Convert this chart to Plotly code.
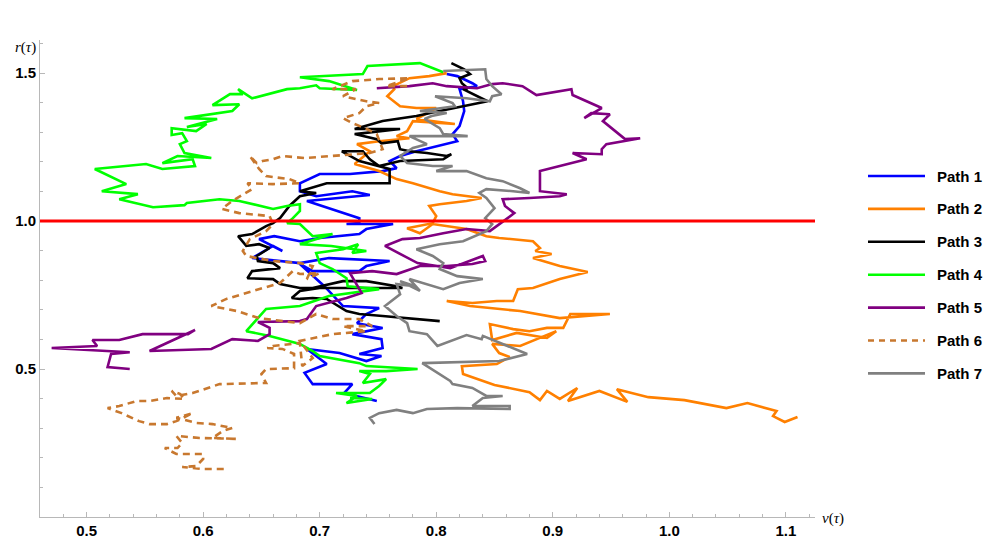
import plotly.graph_objects as go

# ---- data (nu(tau), r(tau)) ----
path1 = [(0.809,1.497),(0.818,1.490),(0.831,1.466),(0.835,1.456),(0.820,1.446),(0.823,1.405),(0.824,1.372),
 (0.820,1.321),(0.814,1.294),(0.818,1.270),(0.783,1.236),(0.769,1.220),(0.760,1.203),(0.766,1.179),(0.754,1.169),
 (0.726,1.159),(0.700,1.159),(0.683,1.128),(0.683,1.101),(0.697,1.084),(0.728,1.101),(0.743,1.088),(0.689,1.068),
 (0.720,1.027),(0.734,1.010),(0.734,0.993),(0.723,0.990),(0.763,0.990),(0.740,0.973),(0.734,0.956),(0.700,0.943),
 (0.683,0.932),(0.661,0.949),(0.648,0.939),(0.668,0.899),(0.660,0.916),(0.642,0.875),(0.683,0.858),(0.708,0.875),
 (0.760,0.865),(0.740,0.848),(0.734,0.831),(0.694,0.831),(0.683,0.855),(0.704,0.780),(0.720,0.713),(0.751,0.706),
 (0.740,0.686),(0.732,0.655),(0.754,0.639),(0.728,0.618),(0.753,0.601),(0.754,0.571),(0.734,0.551),(0.753,0.544),
 (0.740,0.527),(0.717,0.554),(0.689,0.568),(0.706,0.517),(0.687,0.487),(0.694,0.449),(0.728,0.449),(0.721,0.419),
 (0.749,0.392)]

path2 = [(0.809,1.500),(0.794,1.490),(0.777,1.483),(0.763,1.456),(0.764,1.446),(0.758,1.422),(0.769,1.388),
 (0.783,1.382),(0.800,1.382),(0.783,1.345),(0.816,1.328),(0.780,1.338),(0.775,1.304),(0.766,1.287),(0.777,1.280),
 (0.751,1.270),(0.732,1.260),(0.743,1.236),(0.730,1.193),(0.751,1.169),(0.766,1.142),(0.780,1.128),(0.803,1.101),
 (0.814,1.091),(0.839,1.078),(0.826,1.068),(0.803,1.057),(0.794,1.051),(0.800,1.017),(0.797,0.993),(0.775,0.976),
 (0.786,0.959),(0.797,0.990),(0.809,0.983),(0.826,0.973),(0.843,0.949),(0.854,0.943),(0.883,0.932),(0.889,0.909),
 (0.885,0.899),(0.899,0.889),(0.883,0.875),(0.906,0.848),(0.930,0.828),(0.906,0.804),(0.883,0.774),(0.870,0.770),
 (0.866,0.730),(0.852,0.730),(0.831,0.723),(0.809,0.730),(0.829,0.713),(0.848,0.706),(0.872,0.696),(0.906,0.672),
 (0.949,0.686),(0.915,0.686),(0.909,0.639),(0.895,0.639),(0.880,0.628),(0.866,0.635),(0.846,0.652),(0.848,0.598),
 (0.869,0.622),(0.895,0.605),(0.903,0.628),(0.872,0.578),(0.848,0.585),(0.854,0.554),(0.863,0.541),(0.852,0.517),
 (0.822,0.510),(0.823,0.483),(0.850,0.446),(0.880,0.422),(0.889,0.395),(0.895,0.426),(0.906,0.399),(0.921,0.436),
 (0.913,0.392),(0.940,0.426),(0.964,0.389),(0.955,0.432),(0.982,0.405),(1.013,0.395),(1.049,0.368),(1.067,0.385),
 (1.092,0.358),(1.089,0.341),(1.099,0.321),(1.110,0.338)]

path3 = [(0.813,1.534),(0.824,1.513),(0.829,1.497),(0.820,1.483),(0.822,1.466),(0.827,1.449),(0.823,1.446),
 (0.839,1.415),(0.844,1.405),(0.803,1.372),(0.783,1.355),(0.754,1.338),(0.730,1.311),(0.769,1.311),(0.740,1.297),
 (0.730,1.294),(0.749,1.277),(0.753,1.263),(0.767,1.270),(0.769,1.243),(0.777,1.236),(0.792,1.230),(0.809,1.220),
 (0.813,1.226),(0.806,1.209),(0.769,1.203),(0.751,1.186),(0.743,1.209),(0.737,1.236),(0.719,1.236),(0.734,1.203),
 (0.760,1.176),(0.760,1.128),(0.706,1.128),(0.683,1.101),(0.697,1.095),(0.683,1.084),(0.674,1.051),(0.666,1.010),
 (0.660,0.993),(0.654,0.983),(0.642,0.956),(0.630,0.949),(0.634,0.932),(0.637,0.916),(0.648,0.922),(0.657,0.909),
 (0.646,0.882),(0.647,0.865),(0.660,0.858),(0.666,0.841),(0.642,0.831),(0.638,0.807),(0.660,0.804),(0.666,0.787),
 (0.683,0.774),(0.694,0.774),(0.720,0.797),(0.740,0.797),(0.766,0.780),(0.771,0.774),(0.700,0.774),(0.683,0.764),
 (0.676,0.740),(0.683,0.737),(0.694,0.740),(0.706,0.737),(0.723,0.696),(0.734,0.686),(0.754,0.679),(0.777,0.672),
 (0.803,0.662)]

path4 = [(0.726,0.402),(0.745,0.399),(0.723,0.385),(0.732,0.409),(0.714,0.419),(0.743,0.419),(0.751,0.443),
 (0.757,0.466),(0.737,0.453),(0.743,0.483),(0.734,0.493),(0.757,0.493),(0.784,0.500),(0.769,0.503),(0.740,0.510),
 (0.734,0.520),(0.700,0.544),(0.694,0.561),(0.683,0.585),(0.657,0.612),(0.637,0.628),(0.654,0.703),(0.683,0.713),
 (0.708,0.747),(0.751,0.770),(0.724,0.780),(0.723,0.807),(0.711,0.838),(0.700,0.858),(0.697,0.892),(0.720,0.905),
 (0.733,0.922),(0.728,0.892),(0.740,0.899),(0.710,0.916),(0.683,0.922),(0.697,0.939),(0.711,0.956),(0.694,0.949),
 (0.683,0.990),(0.672,0.993),(0.677,1.010),(0.683,1.034),(0.683,1.057),(0.672,1.051),(0.660,1.041),(0.631,1.068),
 (0.614,1.074),(0.586,1.061),(0.584,1.054),(0.557,1.047),(0.528,1.074),(0.544,1.091),(0.513,1.101),(0.534,1.125),
 (0.507,1.176),(0.551,1.193),(0.565,1.176),(0.593,1.186),(0.591,1.209),(0.565,1.196),(0.578,1.220),(0.607,1.213),
 (0.584,1.230),(0.580,1.260),(0.586,1.270),(0.582,1.297),(0.573,1.291),(0.573,1.314),(0.594,1.304),(0.603,1.328),
 (0.586,1.318),(0.612,1.345),(0.584,1.348),(0.625,1.372),(0.631,1.395),(0.608,1.392),(0.623,1.429),(0.634,1.429),
 (0.630,1.446),(0.642,1.415),(0.672,1.446),(0.683,1.449),(0.697,1.459),(0.700,1.449),(0.732,1.443),(0.708,1.473),
 (0.683,1.486),(0.737,1.497),(0.741,1.524),(0.786,1.534),(0.806,1.503)]

path5 = [(0.537,0.500),(0.518,0.507),(0.521,0.551),(0.537,0.557),(0.470,0.571),(0.509,0.578),(0.505,0.598),
 (0.528,0.598),(0.548,0.618),(0.587,0.618),(0.593,0.632),(0.554,0.561),(0.607,0.568),(0.625,0.601),(0.647,0.595),
 (0.657,0.618),(0.657,0.639),(0.647,0.659),(0.683,0.662),(0.689,0.669),(0.697,0.713),(0.723,0.740),(0.736,0.757),
 (0.726,0.824),(0.745,0.831),(0.766,0.821),(0.786,0.848),(0.809,0.848),(0.831,0.855),(0.842,0.865),(0.840,0.882),
 (0.812,0.841),(0.784,0.858),(0.756,0.916),(0.771,0.939),(0.786,0.943),(0.806,0.959),(0.826,0.973),(0.846,0.966),
 (0.854,0.990),(0.861,1.010),(0.867,1.027),(0.859,1.051),(0.857,1.074),(0.880,1.078),(0.906,1.084),(0.912,1.091),
 (0.889,1.101),(0.889,1.169),(0.906,1.186),(0.929,1.209),(0.917,1.230),(0.942,1.226),(0.942,1.243),(0.946,1.260),
 (0.975,1.280),(0.962,1.277),(0.943,1.338),(0.949,1.361),(0.933,1.365),(0.927,1.348),(0.942,1.382),(0.917,1.426),
 (0.916,1.446),(0.906,1.439),(0.886,1.426),(0.874,1.456),(0.857,1.466),(0.848,1.463),(0.835,1.449),(0.809,1.456),
 (0.797,1.466),(0.777,1.456),(0.749,1.449)]

path6 = [(0.775,1.456),(0.757,1.456),(0.777,1.483),(0.751,1.480),(0.728,1.473),(0.711,1.446),(0.731,1.446),
 (0.720,1.422),(0.740,1.405),(0.751,1.399),(0.740,1.388),(0.734,1.365),(0.720,1.348),(0.728,1.331),(0.739,1.314),
 (0.749,1.294),(0.754,1.243),(0.743,1.230),(0.730,1.226),(0.711,1.220),(0.687,1.213),(0.668,1.220),(0.660,1.209),
 (0.651,1.203),(0.646,1.196),(0.640,1.220),(0.648,1.176),(0.654,1.152),(0.674,1.142),(0.683,1.128),(0.660,1.125),
 (0.638,1.128),(0.642,1.108),(0.625,1.068),(0.616,1.041),(0.631,1.027),(0.657,1.017),(0.660,0.990),(0.654,0.966),
 (0.640,0.939),(0.634,0.899),(0.637,0.882),(0.646,0.875),(0.660,0.865),(0.683,0.858),(0.694,0.848),(0.689,0.804),
 (0.700,0.824),(0.683,0.821),(0.677,0.831),(0.666,0.791),(0.648,0.770),(0.620,0.737),(0.607,0.713),(0.629,0.696),
 (0.648,0.672),(0.683,0.655),(0.697,0.686),(0.711,0.669),(0.734,0.669),(0.745,0.645),(0.720,0.645),(0.740,0.628),
 (0.711,0.618),(0.683,0.595),(0.694,0.537),(0.685,0.510),(0.683,0.588),(0.660,0.578),(0.655,0.571),(0.668,0.568),
 (0.678,0.551),(0.678,0.503),(0.654,0.500),(0.650,0.483),(0.654,0.453),(0.625,0.449),(0.614,0.449),(0.591,0.419),
 (0.577,0.409),(0.573,0.426),(0.580,0.416),(0.584,0.399),(0.569,0.402),(0.554,0.392),(0.543,0.392),(0.528,0.375),
 (0.518,0.368),(0.530,0.351),(0.545,0.324),(0.554,0.314),(0.569,0.314),(0.577,0.324),(0.591,0.351),(0.577,0.335),
 (0.594,0.318),(0.608,0.314),(0.625,0.301),(0.617,0.291),(0.608,0.267),(0.629,0.264),(0.597,0.267),(0.577,0.274),
 (0.582,0.250),(0.578,0.233),(0.567,0.233),(0.577,0.213),(0.600,0.213),(0.600,0.196),(0.594,0.172),(0.582,0.169),
 (0.600,0.162),(0.618,0.162)]

path7 = [(0.806,1.507),(0.842,1.513),(0.843,1.480),(0.848,1.456),(0.856,1.429),(0.848,1.422),(0.846,1.405),
 (0.826,1.415),(0.799,1.422),(0.814,1.399),(0.816,1.388),(0.806,1.382),(0.786,1.372),(0.809,1.365),(0.796,1.355),
 (0.790,1.345),(0.796,1.331),(0.803,1.314),(0.806,1.294),(0.827,1.287),(0.777,1.287),(0.792,1.260),(0.780,1.247),
 (0.769,1.220),(0.775,1.196),(0.797,1.186),(0.814,1.186),(0.800,1.169),(0.826,1.169),(0.843,1.145),(0.857,1.135),
 (0.872,1.111),(0.880,1.095),(0.866,1.101),(0.843,1.108),(0.837,1.095),(0.843,1.078),(0.850,1.044),(0.842,1.010),
 (0.848,0.990),(0.843,0.966),(0.823,0.932),(0.803,0.922),(0.783,0.905),(0.797,0.882),(0.806,0.858),(0.803,0.838),
 (0.818,0.814),(0.840,0.804),(0.820,0.791),(0.806,0.770),(0.777,0.804),(0.786,0.764),(0.769,0.797),(0.782,0.780),
 (0.766,0.787),(0.769,0.753),(0.756,0.713),(0.766,0.679),(0.775,0.655),(0.777,0.628),(0.792,0.618),(0.801,0.578),
 (0.826,0.615),(0.839,0.601),(0.840,0.612),(0.878,0.551),(0.854,0.527),(0.788,0.520),(0.812,0.460),(0.814,0.449),
 (0.831,0.436),(0.843,0.409),(0.857,0.409),(0.840,0.402),(0.831,0.375),(0.863,0.375),(0.863,0.365),(0.818,0.368),
 (0.792,0.365),(0.780,0.351),(0.766,0.362),(0.751,0.351),(0.743,0.335),(0.747,0.314)]

path_names = ["Path 1", "Path 2", "Path 3", "Path 4", "Path 5", "Path 6", "Path 7"]
path_colors = ["#0000ff", "#ff8000", "#000000", "#00ff00", "#800080", "#c8782f", "#808080"]
path_dashes = ["solid", "solid", "solid", "solid", "solid", "7px,5px", "solid"]
paths = [path1, path2, path3, path4, path5, path6, path7]
threshold = 1.0

x_ticks = [0.5, 0.6, 0.7, 0.8, 0.9, 1.0, 1.1]
y_ticks = [0.5, 1.0, 1.5]

fig = go.Figure()
for pts, name, col, dash in zip(paths, path_names, path_colors, path_dashes):
    xs = [p[0] for p in pts]
    ys = [p[1] for p in pts]
    fig.add_trace(go.Scatter(x=xs, y=ys, mode="lines", name=name, showlegend=False,
                             line=dict(color=col, width=2.6, dash=dash)))

# threshold line r = 1
fig.add_shape(type="line", xref="paper", yref="y", x0=0, x1=1, y0=threshold, y1=threshold,
              line=dict(color="#ff0000", width=3), layer="above")

tickfont = dict(family="Liberation Sans, Arial", size=15, color="black", weight="bold")
fig.update_xaxes(range=[0.46, 1.125], showgrid=False, zeroline=False, showline=True, automargin=False,
                 linecolor="#b8b8b8", linewidth=1, ticks="inside", ticklen=5, tickcolor="#b8b8b8",
                 tickvals=x_ticks, ticktext=[f"{v:.1f}" for v in x_ticks], tickfont=tickfont,
                 minor=dict(ticks="inside", ticklen=3, dtick=0.02, tick0=0.5, tickcolor="#b8b8b8"))
fig.update_yaxes(range=[0, 1.612], showgrid=False, zeroline=False, showline=True, automargin=False,
                 linecolor="#b8b8b8", linewidth=1, ticks="inside", ticklen=5, tickcolor="#b8b8b8",
                 tickvals=y_ticks, ticktext=[f"{v:.1f}" for v in y_ticks], tickfont=tickfont,
                 minor=dict(ticks="inside", ticklen=3, dtick=0.1, tick0=0, tickcolor="#b8b8b8"))

L, R, T, B = 40, 174, 40, 23
W, H = 989, 540
pw, ph = W - L - R, H - T - B

def px(xp):
    return (xp - L) / pw

def py(yp):
    return (H - B - yp) / ph

annotations = [
    dict(text="<i>r</i>(<i>τ</i>)", x=px(25), y=py(48), xref="paper", yref="paper", showarrow=False,
         xanchor="center", yanchor="middle",
         font=dict(family="Liberation Serif, Times New Roman", size=15, color="black")),
    dict(text="<i>ν</i>(<i>τ</i>)", x=px(833), y=py(518), xref="paper", yref="paper", showarrow=False,
         xanchor="center", yanchor="middle",
         font=dict(family="Liberation Serif, Times New Roman", size=15, color="black")),
]
leg_y0 = 176
leg_dy = 32.9
for i, (name, col, dash) in enumerate(zip(path_names, path_colors, path_dashes)):
    yy = leg_y0 + i * leg_dy
    fig.add_shape(type="line", xref="paper", yref="paper", x0=px(868), x1=px(925), y0=py(yy), y1=py(yy),
                  line=dict(color=col, width=2.6, dash="6px,5px" if dash != "solid" else "solid"))
    annotations.append(dict(text=name, x=px(935), y=py(yy), xref="paper", yref="paper",
                            xanchor="left", yanchor="middle", showarrow=False,
                            font=dict(family="Liberation Sans, Arial", size=15,
                                      color="black", weight="bold")))

fig.update_layout(width=W, height=H, margin=dict(l=L, r=R, t=T, b=B), plot_bgcolor="white",
                  paper_bgcolor="white", annotations=annotations)
fig.write_html("out.html", config={"displayModeBar": False},
               post_script="document.body.style.margin='0';")
